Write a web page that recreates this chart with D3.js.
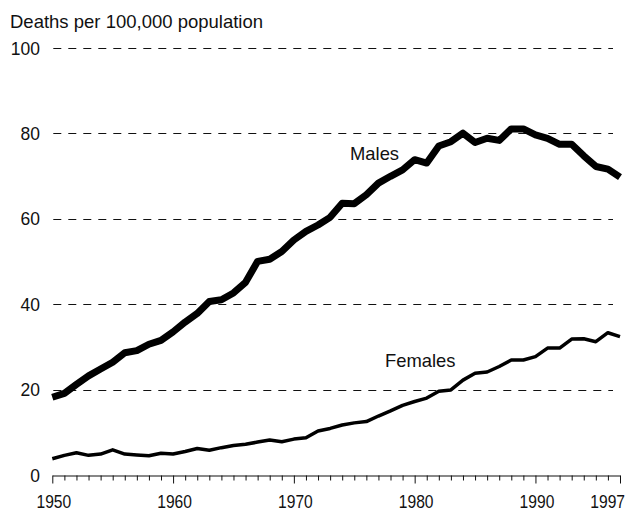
<!DOCTYPE html>
<html>
<head>
<meta charset="utf-8">
<script src="https://cdn.jsdelivr.net/npm/d3@7"></script>
<style>
  body { margin: 0; background: #fff; }
  svg { font-family: "Liberation Sans", Arial, sans-serif; display: block; }
</style>
</head>
<body>
<svg class="chart" width="631" height="511"></svg>
<script>
var years = d3.range(1950, 1998);

var males = [18.2, 19.1, 21.2, 23.2, 24.8, 26.4, 28.6, 29.1, 30.6, 31.5,
    33.5, 35.8, 37.8, 40.6, 41.0, 42.6, 45.1, 50.0, 50.5, 52.3,
    55.0, 57.0, 58.5, 60.3, 63.6, 63.5, 65.6, 68.3, 69.9, 71.4,
    73.8, 73.0, 77.0, 78.0, 80.0, 77.8, 78.8, 78.3, 81.0, 81.0,
    79.6, 78.8, 77.4, 77.4, 74.7, 72.2, 71.6, 69.7];

var females = [3.8, 4.6, 5.2, 4.6, 4.9, 5.9, 4.9, 4.7, 4.5, 5.1,
    4.9, 5.5, 6.2, 5.8, 6.4, 6.9, 7.2, 7.7, 8.2, 7.8,
    8.4, 8.7, 10.3, 10.9, 11.7, 12.2, 12.5, 13.8, 15.0, 16.3,
    17.2, 18.0, 19.6, 19.9, 22.2, 23.8, 24.1, 25.4, 26.9, 26.9,
    27.7, 29.7, 29.7, 31.8, 31.9, 31.2, 33.3, 32.4];

var yTicks = [0, 20, 40, 60, 80, 100];
var xLabels = [1950, 1960, 1970, 1980, 1990, 1997];

function plot(options) {
    var svg = d3.select(".chart");

    var x = d3.scaleLinear()
        .domain([1950, 1997])
        .range([options.left, options.right]);
    var y = d3.scaleLinear()
        .domain([0, 100])
        .range([options.bottom, options.top]);

    svg.append("text")
        .attr("x", 10)
        .attr("y", 28)
        .style("font-size", "18.5px")
        .attr("fill", "#111")
        .text("Deaths per 100,000 population");

    // dashed gridlines
    svg.selectAll(".grid")
        .data(yTicks.filter(function (d) { return d > 0; }))
        .enter()
        .append("line")
        .attr("x1", options.left + 1)
        .attr("x2", options.right - 7)
        .attr("y1", function (d) { return Math.round(y(d)) + 0.5; })
        .attr("y2", function (d) { return Math.round(y(d)) + 0.5; })
        .attr("stroke", "#111")
        .attr("stroke-width", 1)
        .attr("stroke-dasharray", "8,7");

    // y labels (slightly condensed)
    svg.selectAll(".ylab")
        .data(yTicks)
        .enter()
        .append("text")
        .attr("transform", function (d) {
            return "translate(40," + (y(d) + 6.8) + ") scale(0.94,1)";
        })
        .attr("text-anchor", "end")
        .style("font-size", "18.6px")
        .attr("fill", "#111")
        .text(String);

    // x axis
    var xAxis = d3.axisBottom(x)
        .tickValues(years)
        .tickSize(5)
        .tickSizeOuter(0)
        .tickFormat("");
    var gx = svg.append("g")
        .attr("transform", "translate(0," + (options.bottom + 0.5) + ")")
        .call(xAxis);
    gx.select(".domain").attr("stroke", "#111").attr("stroke-width", 1.2);
    gx.selectAll(".tick line")
        .attr("stroke", "#111")
        .attr("y2", function (d) { return xLabels.indexOf(d) >= 0 ? 8 : 5; });

    svg.selectAll(".xlab")
        .data(xLabels)
        .enter()
        .append("text")
        .attr("transform", function (d) {
            var px = d === 1997 ? x(d) + 5 : x(d) + 1.5;
            return "translate(" + px + "," + (options.bottom + 33) + ") scale(0.84,1)";
        })
        .attr("text-anchor", function (d) { return d === 1997 ? "end" : "middle"; })
        .style("font-size", "18.6px")
        .attr("fill", "#111")
        .text(String);

    var line = d3.line()
        .x(function (d, i) { return x(years[i]); })
        .y(function (d) { return y(d); });

    svg.append("path")
        .datum(females)
        .attr("d", line)
        .attr("fill", "none")
        .attr("stroke", "#000")
        .attr("stroke-width", 3.5)
        .attr("stroke-linejoin", "round");

    svg.append("path")
        .datum(males)
        .attr("d", line)
        .attr("fill", "none")
        .attr("stroke", "#000")
        .attr("stroke-width", 7)
        .attr("stroke-linejoin", "round");

    svg.append("text")
        .attr("x", 350)
        .attr("y", 160)
        .style("font-size", "18.4px")
        .attr("fill", "#111")
        .text("Males");

    svg.append("text")
        .attr("x", 385)
        .attr("y", 367)
        .style("font-size", "18.4px")
        .attr("fill", "#111")
        .text("Females");
}

plot({
    left: 52.3,
    right: 620,
    top: 47.7,
    bottom: 475
});
</script>
</body>
</html>
